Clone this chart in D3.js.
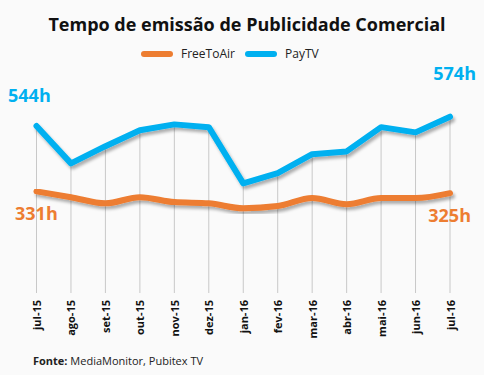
<!DOCTYPE html>
<html>
<head>
<meta charset="utf-8">
<script src="https://cdnjs.cloudflare.com/ajax/libs/d3/7.8.5/d3.min.js"></script>
<style>
  body { margin: 0; background: #fafafa; }
  svg { display: block; font-family: "Open Sans", "DejaVu Sans", sans-serif; }
</style>
</head>
<body>
<div id="chart"></div>
<script>
// Data
const months = ["jul-15", "ago-15", "set-15", "out-15", "nov-15", "dez-15", "jan-16",
                "fev-16", "mar-16", "abr-16", "mai-16", "jun-16", "jul-16"];
const freeToAir = [331, 312, 292, 312, 296, 292, 276, 283, 309, 289, 309, 309, 325];
const payTV = [544, 422, 478, 530, 549, 540, 357, 390, 452, 461, 540, 523, 574];
const seriesNames = ["FreeToAir", "PayTV"];
const colors = ["#ED7D31", "#00B0F0"];

const width = 484, height = 375;

const svg = d3.select("#chart").append("svg")
    .attr("width", width)
    .attr("height", height);

svg.append("rect").attr("width", width).attr("height", height).attr("fill", "#fafafa");

// shadow filter
const defs = svg.append("defs");
const f = defs.append("filter").attr("id", "shadow")
    .attr("x", "-10%").attr("y", "-10%").attr("width", "130%").attr("height", "140%");
f.append("feDropShadow")
    .attr("dx", 2).attr("dy", 3).attr("stdDeviation", 1.6)
    .attr("flood-color", "#000").attr("flood-opacity", 0.3);

// scales
const x = d3.scalePoint().domain(months).range([36.5, 450]);
const y = d3.scaleLinear().domain([0, 700]).range([293, 78]);

// title
svg.append("text")
    .attr("x", 247).attr("y", 31)
    .attr("text-anchor", "middle")
    .attr("font-size", 18).attr("font-weight", "bold").attr("fill", "#111")
    .text("Tempo de emissão de Publicidade Comercial");

// legend
const legend = [{ x: 142, name: seriesNames[0], c: colors[0] }, { x: 246, name: seriesNames[1], c: colors[1] }];
legend.forEach(d => {
  svg.append("line")
      .attr("x1", d.x + 2).attr("x2", d.x + 28).attr("y1", 54).attr("y2", 54)
      .attr("stroke", d.c).attr("stroke-width", 6).attr("stroke-linecap", "round");
  svg.append("text")
      .attr("x", d.x + 39).attr("y", 58)
      .attr("font-size", 12).attr("fill", "#222")
      .text(d.name);
});

// drop lines
svg.append("g").selectAll("line")
    .data(months)
    .enter().append("line")
    .attr("x1", d => x(d)).attr("x2", d => x(d))
    .attr("y1", (d, i) => y(Math.max(payTV[i], freeToAir[i])))
    .attr("y2", y(0))
    .attr("stroke", "#c8c8c8").attr("stroke-width", 1);

// lines
const lineSmooth = d3.line()
    .x((d, i) => x(months[i]))
    .y(d => y(d))
    .curve(d3.curveMonotoneX);
const lineStraight = d3.line()
    .x((d, i) => x(months[i]))
    .y(d => y(d));

svg.append("path")
    .datum(freeToAir)
    .attr("d", lineSmooth)
    .attr("fill", "none")
    .attr("stroke", colors[0]).attr("stroke-width", 6)
    .attr("stroke-linecap", "round").attr("stroke-linejoin", "round")
    .attr("filter", "url(#shadow)");

svg.append("path")
    .datum(payTV)
    .attr("d", lineStraight)
    .attr("fill", "none")
    .attr("stroke", colors[1]).attr("stroke-width", 6)
    .attr("stroke-linecap", "round").attr("stroke-linejoin", "round")
    .attr("filter", "url(#shadow)");

// end labels
const last = months.length - 1;
const labels = [
  { text: payTV[0] + "h", x: 8, y: y(payTV[0]) - 24, c: colors[1], anchor: "start" },
  { text: freeToAir[0] + "h", x: 15, y: y(freeToAir[0]) + 29, c: colors[0], anchor: "start" },
  { text: payTV[last] + "h", x: 476, y: y(payTV[last]) - 37, c: colors[1], anchor: "end" },
  { text: freeToAir[last] + "h", x: 471, y: y(freeToAir[last]) + 29, c: colors[0], anchor: "end" }
];
svg.append("g").selectAll("text")
    .data(labels)
    .enter().append("text")
    .attr("x", d => d.x).attr("y", d => d.y)
    .attr("text-anchor", d => d.anchor)
    .attr("font-size", 18).attr("font-weight", "bold")
    .attr("fill", d => d.c)
    .text(d => d.text);

// x axis labels
const xAxis = svg.append("g")
    .attr("transform", `translate(0,${y(0)})`)
    .call(d3.axisBottom(x).tickSize(0).tickPadding(0));
xAxis.select(".domain").remove();
xAxis.selectAll("text")
    .attr("transform", "translate(4,7) rotate(-90)")
    .attr("text-anchor", "end")
    .attr("dy", 0)
    .attr("y", 0)
    .attr("font-size", 11).attr("font-weight", "bold")
    .attr("font-family", "\"Open Sans\", sans-serif")
    .attr("fill", "#111");

// source
const src = svg.append("text")
    .attr("x", 33).attr("y", 365)
    .attr("font-size", 11).attr("fill", "#222");
src.append("tspan").attr("font-weight", "bold").text("Fonte: ");
src.append("tspan").text(" MediaMonitor, Pubitex TV");
</script>
</body>
</html>
